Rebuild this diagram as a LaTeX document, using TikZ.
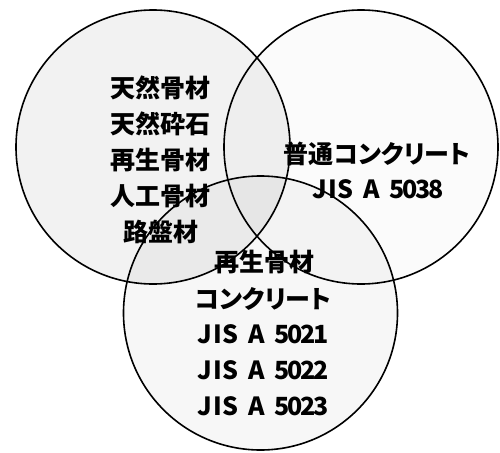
\documentclass[tikz,border=0pt]{standalone}
\usepackage{fontspec}
\newfontfamily\jp[RawFeature=+palt]{Noto Sans CJK JP}
\newcommand\hwc[1]{\makebox[12.9pt]{#1}}
\newcommand\jis[4]{\hwc{J}\hwc{I}\hwc{S}\hwc{ }\hwc{A}\hwc{ }\hwc{#1}\hwc{#2}\hwc{#3}\hwc{#4}}
\begin{document}
\begin{tikzpicture}[x=1pt,y=-1pt,
  venn/.style={line width=1.6pt, fill=black},
  jtxt/.style={anchor=base, inner sep=0pt, font=\jp\bfseries\fontsize{25}{30}\selectfont},
  ltxt/.style={anchor=base, inner sep=0pt, font=\jp\bfseries\fontsize{25}{30}\selectfont}]
\useasboundingbox (0,0) rectangle (500,452);
\fill[white] (0,0) rectangle (500,452);
\draw[venn, fill opacity=0.05] (153,147) circle (137);
\draw[venn, fill opacity=0.015] (361,147) circle (137);
\draw[venn, fill opacity=0.03] (260.5,313) circle (137);
% left circle
\node[jtxt] (l1) at (160,97) {天然骨材};
\node[jtxt] (l2) at (160,133) {天然砕石};
\node[jtxt] (l3) at (160,169) {再生骨材};
\node[jtxt] (l4) at (160,205) {人工骨材};
\node[jtxt] (l5) at (161,241) {路盤材};
% right circle
\node[jtxt] (r1) at (377,163) {普通コンクリート};
\node[ltxt] (r2) at (378,198) {\jis5038};
% bottom circle
\node[jtxt] (b1) at (264,271) {再生骨材};
\node[jtxt] (b2) at (263,308) {コンクリート};
\node[ltxt] (b3) at (263,343) {\jis5021};
\node[ltxt] (b4) at (263,379) {\jis5022};
\node[ltxt] (b5) at (263,415) {\jis5023};
\end{tikzpicture}
\end{document}
